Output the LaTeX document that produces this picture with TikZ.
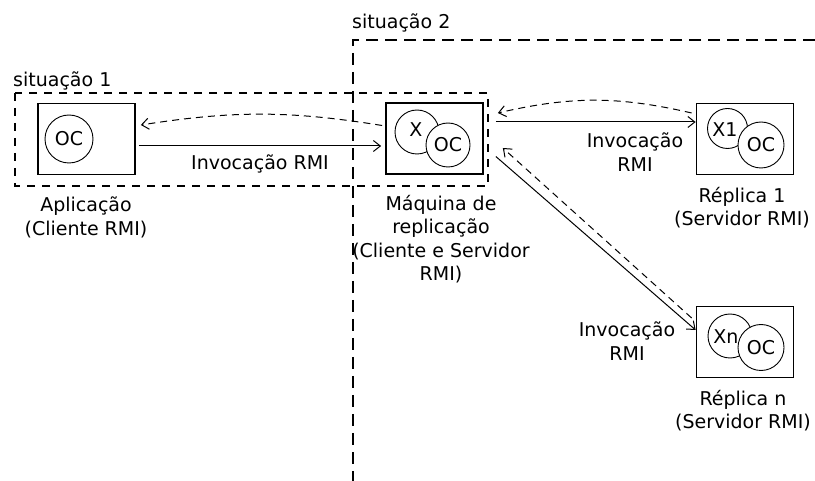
\documentclass[tikz,border=0pt]{standalone}
\usepackage{fontspec}
\setmainfont{DejaVu Sans}
\usetikzlibrary{arrows.meta}

\begin{document}
\begin{tikzpicture}[x=1pt,y=-1pt,
  every node/.style={font=\fontsize{19}{23.5}\selectfont, inner sep=0pt},
  compbox/.style={draw, line width=1.7pt, minimum width=97pt, minimum height=71pt},
  obj/.style={draw, circle, fill=white, line width=0.9pt, inner sep=0pt},
  lbl/.style={align=center},
  call/.style={line width=1pt, -{Straight Barb[length=7pt,width=11pt]}},
  reply/.style={call, dash pattern=on 7pt off 5pt},
  zone1/.style={line width=1.5pt, dash pattern=on 8pt off 7pt},
  zone2/.style={line width=1.5pt, dash pattern=on 12pt off 7pt},
]
\useasboundingbox (0,0) rectangle (815,481);

% situation frames
\draw[zone2] (815,40) -- (353,40) -- (353,481);
\draw[zone1] (15,93) rectangle (488,186);
\node[anchor=base west] (s1) at (13,87) {situação 1};
\node[anchor=base west] (s2) at (352,29) {situação 2};

% client application
\node[compbox] (app) at (86.5,139) {};
\node[obj, minimum size=48pt] (appoc) at (69,139) {OC};

% replication machine
\node[compbox] (mq) at (434.5,138.5) {};
\node[obj, minimum size=44pt] (mqx) at (417,132) {};
\node[obj, minimum size=44pt] (mqoc) at (448,145) {OC};
\node (mqxt) at (416,130) {X};

% replica 1
\node[compbox] (r1) at (745,139) {};
\node[obj, minimum size=40pt] (r1x) at (727.5,128.5) {};
\node[obj, minimum size=46pt] (r1oc) at (761,145) {OC};
\node (r1xt) at (725,130) {X1};

% replica n
\node[compbox] (rn) at (745,342) {};
\node[obj, minimum size=44pt] (rnx) at (730,336) {};
\node[obj, minimum size=46pt] (rnoc) at (761,347.5) {OC};
\node (rnxt) at (726,337) {Xn};

% captions
\node[lbl, anchor=north] (appl) at (86,197) {Aplicação\\(Cliente RMI)};
\node[lbl, anchor=north] (mql) at (441,195) {Máquina de\\replicação\\(Cliente e Servidor\\RMI)};
\node[lbl, anchor=north] (r1l) at (742,187) {Réplica 1\\(Servidor RMI)};
\node[lbl, anchor=north] (rnl) at (743,390) {Réplica n\\(Servidor RMI)};

% invocations and replies
\draw[call] ([xshift=3pt,yshift=-7pt]app.east) -- ([xshift=-4pt,yshift=-7.5pt]mq.west)
  node[midway, below=8pt] (inv0) {Invocação RMI};
\draw[reply] ([xshift=-3pt,yshift=13pt]mq.west) to[bend right=9] ([xshift=5pt,yshift=14pt]app.east);

\draw[call] ([xshift=12pt,yshift=16.5pt]mq.east) -- ([yshift=17pt]r1.west);
\draw[reply] ([xshift=-4pt,yshift=26pt]r1.west) to[bend right=13] ([xshift=14pt,yshift=25.5pt]mq.east);
\node[lbl, anchor=north] (inv1) at (635,133) {Invocação\\RMI};

\draw[call] ([xshift=12pt,yshift=-18pt]mq.east) -- ([yshift=12pt]rn.west);
\draw[reply] ([xshift=-4pt,yshift=24pt]rn.west) -- ([xshift=19pt,yshift=-9.5pt]mq.east);
\node[lbl, anchor=north] (invn) at (627,322) {Invocação\\RMI};
\end{tikzpicture}
\end{document}
